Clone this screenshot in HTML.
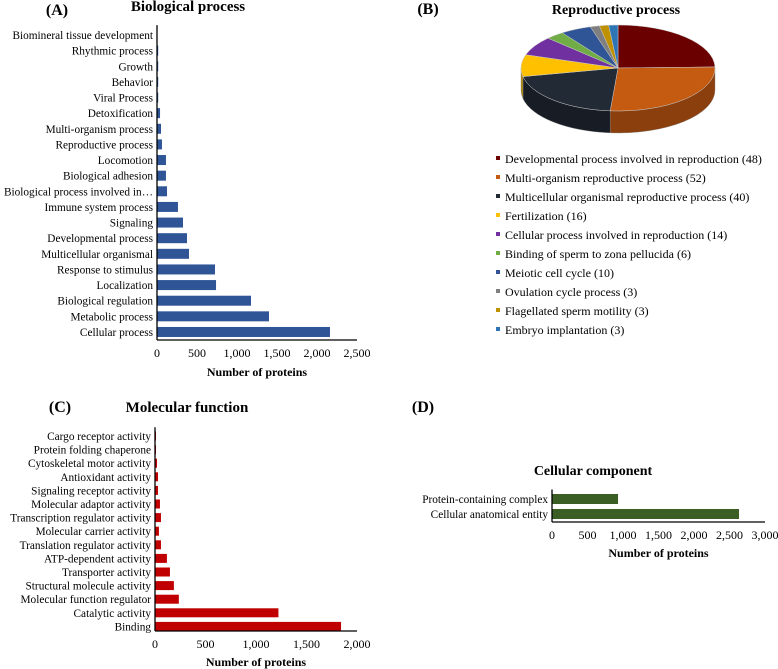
<!DOCTYPE html>
<html><head><meta charset="utf-8">
<style>
html,body{margin:0;padding:0;background:#fff;}
svg{display:block;font-family:"Liberation Serif",serif;}
</style></head>
<body>
<svg id="s" width="778" height="669" viewBox="0 0 778 669">
<text x="57" y="15" font-size="16" font-weight="bold" text-anchor="middle">(A)</text>
<text x="188" y="11" font-size="15" font-weight="bold" text-anchor="middle">Biological process</text>
<text x="428" y="14" font-size="16" font-weight="bold" text-anchor="middle">(B)</text>
<text x="616" y="14" font-size="14" font-weight="bold" text-anchor="middle">Reproductive process</text>
<text x="60" y="412" font-size="16" font-weight="bold" text-anchor="middle">(C)</text>
<text x="187" y="412" font-size="15" font-weight="bold" text-anchor="middle">Molecular function</text>
<text x="423" y="412" font-size="16" font-weight="bold" text-anchor="middle">(D)</text>
<text x="593" y="475" font-size="14" font-weight="bold" text-anchor="middle">Cellular component</text>
<g id="gA"></g>
<g id="gB"></g>
<g id="gL"></g>
<g id="gC"></g>
<g id="gD"></g>
</svg>
<script>
const bpCategories=["Biomineral  tissue development","Rhythmic process","Growth","Behavior","Viral Process","Detoxification","Multi-organism process","Reproductive process","Locomotion","Biological adhesion","Biological process involved in…","Immune system process","Signaling","Developmental process","Multicellular  organismal","Response to stimulus","Localization","Biological regulation","Metabolic process","Cellular process"];
const bpValues=[2,15,15,15,15,38,50,62,112,112,125,262,325,375,400,725,738,1175,1400,2162];
const bpTicks=[0,500,1000,1500,2000,2500];
const mfCategories=["Cargo receptor activity","Protein folding chaperone","Cytoskeletal motor activity","Antioxidant activity","Signaling receptor activity","Molecular adaptor activity","Transcription regulator activity","Molecular carrier activity","Translation regulator activity","ATP-dependent activity","Transporter activity","Structural molecule activity","Molecular function regulator","Catalytic activity","Binding"];
const mfValues=[10,10,20,30,30,49,59,39,59,118,148,187,236,1222,1842];
const mfTicks=[0,500,1000,1500,2000];
const ccCategories=["Protein-containing complex","Cellular anatomical entity"];
const ccValues=[930,2634];
const ccTicks=[0,500,1000,1500,2000,2500,3000];
const rpLabels=["Developmental process involved in reproduction","Multi-organism reproductive process","Multicellular  organismal reproductive process","Fertilization ","Cellular process involved in reproduction","Binding of sperm to zona pellucida","Meiotic cell cycle","Ovulation cycle process","Flagellated sperm motility","Embryo implantation"];
const rpValues=[48,52,40,16,14,6,10,3,3,3];
const rpColors=["#6b0000","#c55a11","#222a35","#ffc000","#7030a0","#70ad47","#2f5597","#7f7f7f","#bf9000","#2e75b6"];

const NS="http://www.w3.org/2000/svg";
function mk(tag,attrs,parent){const e=document.createElementNS(NS,tag);for(const k in attrs)e.setAttribute(k,attrs[k]);parent.appendChild(e);return e;}
function fmt(v){return v.toLocaleString('en-US');}

function barChart(g,cats,vals,ticks,o){
  const max=ticks[ticks.length-1];
  const xs=v=>o.x0+(v/max)*(o.x1-o.x0);
  const ys=i=>o.yFirst+i*o.pitch;
  cats.forEach((c,i)=>{
    const r=mk('rect',{x:o.x0,y:ys(i)-o.bh/2,width:xs(vals[i])-o.x0,height:o.bh,fill:o.color},g);
    
    
    const t=mk('text',{x:o.x0-4,y:ys(i)+4,'font-size':o.fs,'text-anchor':'end'},g);
    t.textContent=c;
    
    
  });
  const ay=mk('line',{x1:o.x0,x2:o.x0,y1:o.yFirst-o.pitch/2-2,y2:o.axisY,stroke:'#000','stroke-width':1.3},g);
  
  
  const ax=mk('line',{x1:o.x0,x2:o.x1,y1:o.axisY,y2:o.axisY,stroke:'#000','stroke-width':1.3},g);
  
  
  ticks.forEach(tv=>{
    const t=mk('text',{x:xs(tv),y:o.axisY+17,'font-size':12,'text-anchor':'middle'},g);
    t.textContent=fmt(tv);
    
    
  });
  const tt=mk('text',{x:(o.x0+o.x1)/2,y:o.titleY,'font-size':12,'font-weight':'bold','text-anchor':'middle'},g);
  tt.textContent='Number of proteins';
  
  
}
barChart(document.getElementById('gA'),bpCategories,bpValues,bpTicks,{x0:157,x1:357,yFirst:35,pitch:15.63,bh:10,axisY:340,titleY:376,fs:11.3,color:'#2f5597'});
barChart(document.getElementById('gC'),mfCategories,mfValues,mfTicks,{x0:155,x1:357,yFirst:436,pitch:13.6,bh:9,axisY:631,titleY:666,fs:11.3,color:'#c00000'});
barChart(document.getElementById('gD'),ccCategories,ccValues,ccTicks,{x0:552,x1:765,yFirst:499,pitch:15,bh:10,axisY:522,titleY:557,fs:11.3,color:'#3a5e23'});

(function(){
  const g=document.getElementById('gB');
  const cx=618,cy=68,rx=97,ry=43,d=22;
  const total=rpValues.reduce((a,b)=>a+b,0);
  const pt=(a,dy)=>[cx+rx*Math.sin(a),cy-ry*Math.cos(a)+(dy||0)];
  function shade(hex,f){const n=parseInt(hex.slice(1),16);const r=(n>>16)*f,gg=((n>>8)&255)*f,b=(n&255)*f;return 'rgb('+[r,gg,b].map(Math.round).join(',')+')';}
  let a=0;const segs=[];
  rpValues.forEach((v,i)=>{const a1=a+v/total*2*Math.PI;segs.push([a,a1,i]);a=a1;});
  segs.forEach(([a0,a1,i])=>{
    const s=Math.max(a0,Math.PI/2),e=Math.min(a1,3*Math.PI/2);
    if(e<=s)return;
    const p0=pt(s),p1=pt(e);
    const side=mk('path',{d:`M${p0[0]},${p0[1]} A${rx},${ry} 0 0 1 ${p1[0]},${p1[1]} L${p1[0]},${p1[1]+d} A${rx},${ry} 0 0 0 ${p0[0]},${p0[1]+d} Z`,fill:shade(rpColors[i],0.7),stroke:'#888','stroke-width':0.4},g);
    
    
  });
  segs.forEach(([a0,a1,i])=>{
    const p0=pt(a0),p1=pt(a1);
    const large=(a1-a0)>Math.PI?1:0;
    const s=mk('path',{d:`M${cx},${cy} L${p0[0]},${p0[1]} A${rx},${ry} 0 ${large} 1 ${p1[0]},${p1[1]} Z`,fill:rpColors[i],stroke:'#ccc','stroke-width':0.5},g);
    
    
  });
  const L=document.getElementById('gL');
  rpLabels.forEach((l,i)=>{
    const y=159+i*19;
    const m=mk('rect',{x:496,y:y-3,width:4,height:4,fill:rpColors[i]},L);
    
    
    const t=mk('text',{x:505,y:y+4,'font-size':12},L);
    t.textContent=l+' ('+rpValues[i]+')';
    
    
  });
})();
</script>
</body></html>
